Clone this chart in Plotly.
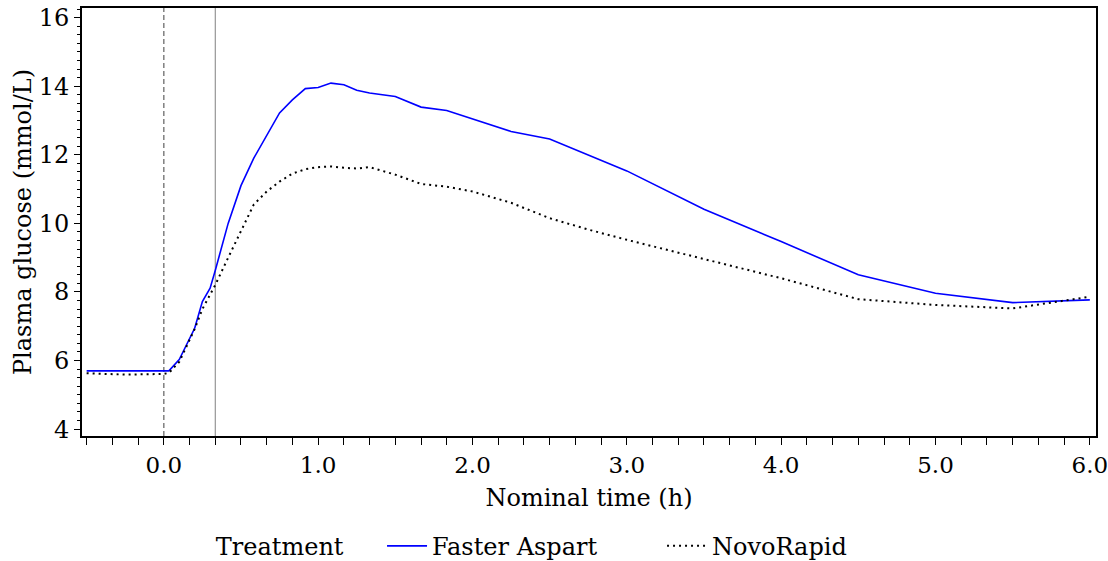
import plotly.graph_objects as go

# Nominal time (h)
time_faster = [-0.5, 0.0, 0.033, 0.1, 0.2, 0.25, 0.3, 0.333, 0.417, 0.5, 0.583, 0.75, 0.833,
               0.917, 1.0, 1.083, 1.167, 1.25, 1.333, 1.5, 1.667, 1.833, 2.0, 2.25, 2.5,
               2.75, 3.0, 3.5, 4.0, 4.5, 5.0, 5.5, 6.0]
glucose_faster = [5.70, 5.68, 5.70, 6.03, 6.94, 7.72, 8.11, 8.62, 10.0, 11.1, 11.9, 13.22, 13.6,
                  13.93, 13.96, 14.09, 14.04, 13.88, 13.80, 13.70, 13.39, 13.29, 13.04, 12.68, 12.46,
                  12.0, 11.53, 10.41, 9.47, 8.50, 7.96, 7.69, 7.77]

time_novo = [-0.5, -0.25, 0.0, 0.033, 0.1, 0.2, 0.25, 0.333, 0.417, 0.5, 0.583, 0.667, 0.75,
             0.833, 0.917, 1.0, 1.083, 1.167, 1.25, 1.333, 1.5, 1.667, 1.833, 2.0, 2.25,
             2.5, 2.75, 3.0, 3.5, 4.0, 4.5, 5.0, 5.5, 6.0]
glucose_novo = [5.63, 5.59, 5.61, 5.64, 5.96, 6.92, 7.5, 8.2, 9.0, 9.77, 10.55, 10.93, 11.22,
                11.45, 11.58, 11.64, 11.66, 11.62, 11.60, 11.64, 11.42, 11.15, 11.07, 10.93, 10.6,
                10.15, 9.82, 9.52, 8.95, 8.4, 7.79, 7.62, 7.52, 7.86]

series_names = ["Faster Aspart", "NovoRapid"]
x_tick_vals = [0, 1, 2, 3, 4, 5, 6]
x_tick_text = ["0.0", "1.0", "2.0", "3.0", "4.0", "5.0", "6.0"]
y_tick_vals = [4, 6, 8, 10, 12, 14, 16]
ref_lines = [0.0, 1 / 3]  # dosing time and 20 min mark

FONT = "DejaVu Serif"

fig = go.Figure()
fig.add_trace(go.Scatter(x=time_faster, y=glucose_faster, mode="lines", name=series_names[0],
                         line=dict(color="#0000FF", width=1.6)))
fig.add_trace(go.Scatter(x=time_novo, y=glucose_novo, mode="lines", name=series_names[1],
                         line=dict(color="#000000", width=2, dash="2px,4px")))

fig.add_shape(type="line", xref="x", yref="paper", x0=ref_lines[0], x1=ref_lines[0], y0=0, y1=1,
              line=dict(color="#808080", width=1.5, dash="5px,3px"), layer="below")
fig.add_shape(type="line", xref="x", yref="paper", x0=ref_lines[1], x1=ref_lines[1], y0=0, y1=1,
              line=dict(color="#808080", width=1), layer="below")

fig.update_layout(
    width=1108, height=561,
    margin=dict(l=82, r=12, t=8, b=125, autoexpand=False),
    paper_bgcolor="white", plot_bgcolor="white",
    font=dict(family=FONT, size=24, color="black"),
    showlegend=True,
    legend=dict(orientation="h", x=0.13, xanchor="left", y=-0.205, yanchor="top",
                title=dict(text="Treatment    ", side="left", font=dict(family=FONT, size=24)),
                font=dict(family=FONT, size=24), entrywidth=225, itemwidth=40, tracegroupgap=0),
    xaxis=dict(range=[-0.53, 6.04], tickmode="array", tickvals=x_tick_vals, ticktext=x_tick_text,
               ticks="outside", ticklen=7, tickwidth=1, tickcolor="black",
               minor=dict(tick0=-0.5, dtick=1 / 6, ticks="outside", ticklen=7, tickwidth=1, tickcolor="black"),
               showline=True, linecolor="black", linewidth=2, mirror=True,
               showgrid=False, zeroline=False, automargin=False, ticklabeloverflow="allow",
               title=dict(text="Nominal time (h)", font=dict(family=FONT, size=24), standoff=13),
               tickfont=dict(family=FONT, size=23)),
    yaxis=dict(range=[3.8, 16.28], tickmode="array", tickvals=y_tick_vals,
               ticks="outside", ticklen=6, tickwidth=1, tickcolor="black",
               minor=dict(tick0=4, dtick=0.25, ticks="outside", ticklen=3, tickwidth=1, tickcolor="black"),
               showline=True, linecolor="black", linewidth=2, mirror=True,
               showgrid=False, zeroline=False, automargin=False,
               title=dict(text="Plasma glucose (mmol/L)", font=dict(family=FONT, size=24), standoff=0),
               tickfont=dict(family=FONT, size=24)),
)

fig.write_html("out.html")
